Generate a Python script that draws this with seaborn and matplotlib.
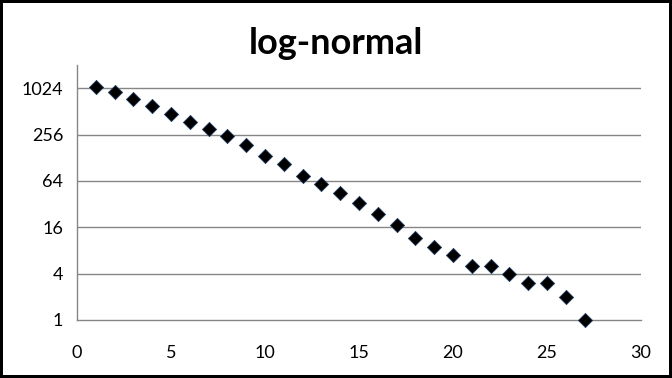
import matplotlib
matplotlib.use("Agg")
import matplotlib.pyplot as plt
import seaborn as sns
import pandas as pd

x_vals = list(range(1, 28))
y_vals = [1050, 900, 740, 610, 480, 375, 300, 243, 185, 134, 107, 74, 58,
          44, 33, 24, 17, 11.7, 9, 6.9, 5, 5, 4, 3, 3, 2, 1]
y_ticks = [1, 4, 16, 64, 256, 1024]
y_tick_labels = ["1", "4", "16", "64", "256", "1024"]
x_ticks = [0, 5, 10, 15, 20, 25, 30]
title = "log-normal"

df = pd.DataFrame({"x": x_vals, "y": y_vals})

sns.set_style("white")
plt.rcParams["font.family"] = ["Lato", "DejaVu Sans"]

fig = plt.figure(figsize=(6.72, 3.78), dpi=100, edgecolor="black", linewidth=3)
ax = fig.add_axes([77/672, 1 - 320/378, (641 - 77)/672, (320 - 65)/378])

grid_c = "#868686"
sns.scatterplot(data=df, x="x", y="y", ax=ax, marker="D", s=52,
                color="black", edgecolor="#1f3a5f", linewidth=0.6, zorder=3)
for coll in ax.collections:
    coll.set_clip_on(False)

ax.set_yscale("log", base=2)
ax.set_ylim(1, 2048)
ax.set_xlim(0, 30)
ax.set_yticks(y_ticks)
ax.set_yticklabels(y_tick_labels)
ax.minorticks_off()
ax.set_xticks(x_ticks)
ax.set_xticklabels([str(v) for v in x_ticks])
ax.set_xlabel("")
ax.set_ylabel("")

for y in y_ticks[1:]:
    ax.axhline(y, color=grid_c, linewidth=1, zorder=1)

for s in ["top", "right"]:
    ax.spines[s].set_visible(False)
for s in ["left", "bottom"]:
    ax.spines[s].set_color(grid_c)
    ax.spines[s].set_linewidth(1)
ax.spines["bottom"].set_zorder(2)

ax.tick_params(axis="both", which="major", direction="out", length=3.8,
               width=1, color=grid_c, labelsize=13, labelcolor="black")
ax.tick_params(axis="y", pad=6)
ax.tick_params(axis="x", pad=14)
ax.patch.set_alpha(0)

fig.text(0.5, 1 - 43/378, title, ha="center", va="center",
         fontsize=26, fontweight="bold", color="black")

fig.savefig("out.png", dpi=100, edgecolor=fig.get_edgecolor())
